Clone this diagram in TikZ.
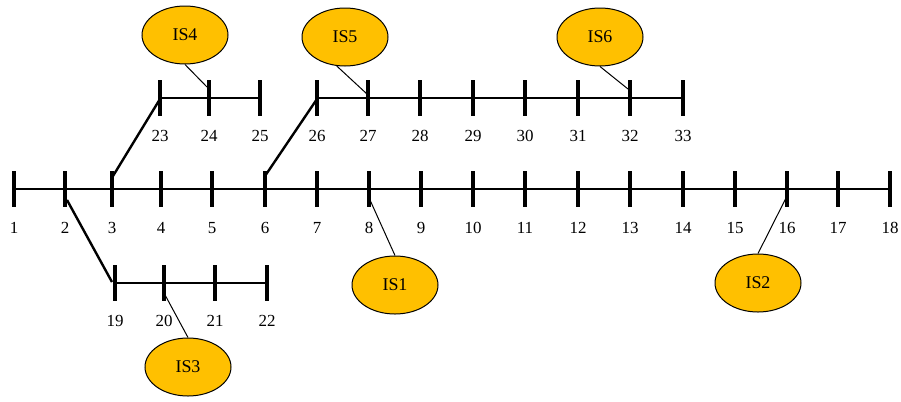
\documentclass[tikz,border=0pt]{standalone}
\usepackage{fontspec}
\setmainfont{Liberation Serif}
\usetikzlibrary{shapes.geometric}
\definecolor{isfill}{RGB}{255,192,0}
\begin{document}
\begin{tikzpicture}[x=1bp,y=-1bp,
  bus/.style={line width=2.4bp},
  branch/.style={line width=2.4bp},
  tie/.style={line width=1bp},
  tick/.style={rectangle, fill=black, inner sep=0pt, minimum width=4.5bp, minimum height=36bp},
  num/.style={font=\fontsize{17}{17}\selectfont, inner sep=0pt},
  isnode/.style={ellipse, draw=black, line width=1bp, fill=isfill, inner sep=0pt,
                 minimum width=86bp, minimum height=58bp, font=\fontsize{18}{18}\selectfont}]
\useasboundingbox (0,0) rectangle (901,401);

% main feeder, buses 1-18
\foreach \n/\x in {1/14,2/65,3/112,4/161,5/212,6/265,7/317,8/369,9/421,10/473,
                   11/525,12/578,13/630,14/683,15/735,16/787,17/838,18/890}{
  \node[tick] (b\n) at (\x,189) {};
  \node[num] (l\n) at (\x,228) {\n};
}
\draw[bus] (b1.center) -- (b18.center);

% lateral 19-22
\foreach \n/\x in {19/115,20/164,21/215,22/267}{
  \node[tick] (b\n) at (\x,283) {};
  \node[num] (l\n) at (\x,321) {\n};
}
\draw[bus] (b19.center) -- (b22.center);

% lateral 23-25
\foreach \n/\x in {23/160,24/209,25/260}{
  \node[tick] (b\n) at (\x,98) {};
  \node[num] (l\n) at (\x,136) {\n};
}
\draw[bus] (b23.center) -- (b25.center);

% lateral 26-33
\foreach \n/\x in {26/317,27/368,28/420,29/473,30/525,31/578,32/630,33/683}{
  \node[tick] (b\n) at (\x,98) {};
  \node[num] (l\n) at (\x,136) {\n};
}
\draw[bus] (b26.center) -- (b33.center);

% branch connections
\draw[branch] ([shift={(2,11)}]b2.center) -- ([shift={(-3,-1)}]b19.center);
\draw[branch] ([shift={(1,-13)}]b3.center) -- ([shift={(0,1)}]b23.center);
\draw[branch] ([shift={(0,-13)}]b6.center) -- ([shift={(0,1)}]b26.center);

% islands
\node[isnode] (IS1) at (395,285) {IS1};
\node[isnode] (IS2) at (758,283) {IS2};
\node[isnode] (IS3) at (188,367) {IS3};
\node[isnode] (IS4) at (185,35) {IS4};
\node[isnode] (IS5) at (345,37) {IS5};
\node[isnode] (IS6) at (600,37) {IS6};

\draw[tie] ([shift={(1,11)}]b8.center) -- (IS1.north);
\draw[tie] ([shift={(-1,9)}]b16.center) -- (IS2.north);
\draw[tie] ([shift={(0,10)}]b20.center) -- (IS3.north);
\draw[tie] (IS4.south) -- ([shift={(-2,-11)}]b24.center);
\draw[tie] (IS5.254) -- ([shift={(-1,-4)}]b27.center);
\draw[tie] (IS6.south) -- ([shift={(-2,-9)}]b32.center);
\end{tikzpicture}
\end{document}
